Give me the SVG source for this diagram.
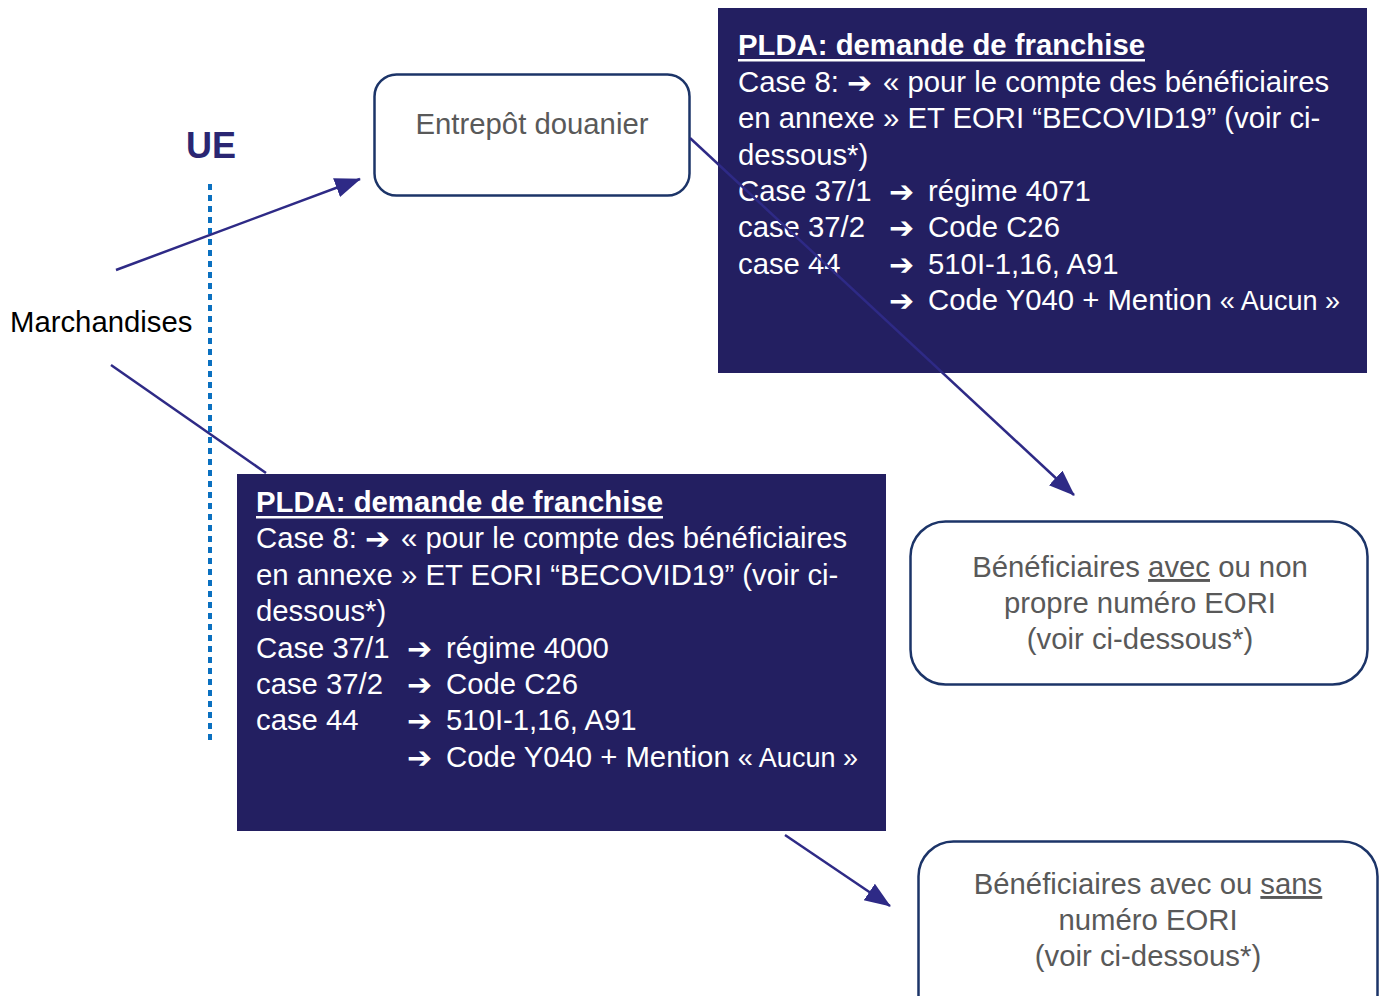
<svg xmlns="http://www.w3.org/2000/svg" width="1387" height="996" viewBox="0 0 1387 996">
<style>
.t{font-family:"Liberation Sans",Arial,sans-serif;font-size:29.3px}
.w{fill:#ffffff}
.g{fill:#595959}
.b{font-weight:bold}
.ar{font-family:"DejaVu Sans",sans-serif;font-weight:bold;font-size:30px;fill:#ffffff}
.sm{font-size:27px}
.dark{fill:#231f61;stroke:none}
.rbox{fill:#ffffff;stroke:#1c3468;stroke-width:2.5}
.conn{stroke:#2e2a86;stroke-width:2.5;fill:none}
</style>
<defs>
<marker id="ah" markerUnits="userSpaceOnUse" markerWidth="28" markerHeight="22" refX="25" refY="10" orient="auto">
<path d="M0,0 L26,10 L0,20 Z" fill="#2e2a86"/>
</marker>
</defs>
<rect width="1387" height="996" fill="#ffffff"/>

<g id="ue">
<text x="211" y="158" text-anchor="middle" style="font-family:'Liberation Sans',Arial,sans-serif;font-size:36px;font-weight:bold;fill:#2a2672">UE</text>
<line x1="210" y1="184" x2="210" y2="740" stroke="#0a70c0" stroke-width="4" stroke-dasharray="6 5"/>
</g>

<g id="marchandises">
<text class="t" x="10" y="332" fill="#000000">Marchandises</text>
</g>

<g id="entrepot">
<rect class="rbox" x="374.5" y="74.5" width="315" height="121" rx="22"/>
<text class="t g" x="532" y="134" text-anchor="middle">Entrepôt douanier</text>
</g>

<g id="plda-top">
<rect class="dark" x="718" y="8" width="649" height="365"/>
<text class="t w b" x="738" y="55">PLDA: demande de franchise</text>
<rect x="738" y="59" width="407" height="2.5" fill="#ffffff"/>
<text class="t w" x="738" y="92">Case 8:</text>
<text class="ar" x="847" y="93">➔</text>
<text class="t w" x="883" y="92">« pour le compte des bénéficiaires</text>
<text class="t w" x="738" y="128">en annexe » ET EORI “BECOVID19” (voir ci-</text>
<text class="t w" x="738" y="165">dessous*)</text>
<text class="t w" x="738" y="201">Case 37/1</text>
<text class="ar" x="889" y="202">➔</text>
<text class="t w" x="928" y="201">régime 4071</text>
<text class="t w" x="738" y="237">case 37/2</text>
<text class="ar" x="889" y="238">➔</text>
<text class="t w" x="928" y="237">Code C26</text>
<text class="t w" x="738" y="274">case 44</text>
<text class="ar" x="889" y="275">➔</text>
<text class="t w" x="928" y="274">510I-1,16, A91</text>
<text class="ar" x="889" y="311">➔</text>
<text class="t w" x="928" y="310">Code Y040 + Mention <tspan class="sm">« Aucun »</tspan></text>
</g>

<g id="plda-bottom">
<rect class="dark" x="237" y="474" width="649" height="357"/>
<text class="t w b" x="256" y="512">PLDA: demande de franchise</text>
<rect x="256" y="516" width="407" height="2.5" fill="#ffffff"/>
<text class="t w" x="256" y="548">Case 8:</text>
<text class="ar" x="365" y="549">➔</text>
<text class="t w" x="401" y="548">« pour le compte des bénéficiaires</text>
<text class="t w" x="256" y="585">en annexe » ET EORI “BECOVID19” (voir ci-</text>
<text class="t w" x="256" y="621">dessous*)</text>
<text class="t w" x="256" y="658">Case 37/1</text>
<text class="ar" x="407" y="659">➔</text>
<text class="t w" x="446" y="658">régime 4000</text>
<text class="t w" x="256" y="694">case 37/2</text>
<text class="ar" x="407" y="695">➔</text>
<text class="t w" x="446" y="694">Code C26</text>
<text class="t w" x="256" y="730">case 44</text>
<text class="ar" x="407" y="731">➔</text>
<text class="t w" x="446" y="730">510I-1,16, A91</text>
<text class="ar" x="407" y="768">➔</text>
<text class="t w" x="446" y="767">Code Y040 + Mention <tspan class="sm">« Aucun »</tspan></text>
</g>

<g id="benef-avec">
<rect class="rbox" x="910.5" y="521.5" width="457" height="163" rx="35"/>
<text class="t g" x="1140" y="577" text-anchor="middle">Bénéficiaires <tspan text-decoration="underline">avec</tspan> ou non</text>
<text class="t g" x="1140" y="613" text-anchor="middle">propre numéro EORI</text>
<text class="t g" x="1140" y="649" text-anchor="middle">(voir ci-dessous*)</text>
</g>

<g id="benef-sans">
<rect class="rbox" x="918.5" y="841.5" width="459" height="190" rx="35"/>
<text class="t g" x="1148" y="894" text-anchor="middle">Bénéficiaires avec ou <tspan text-decoration="underline">sans</tspan></text>
<text class="t g" x="1148" y="930" text-anchor="middle">numéro EORI</text>
<text class="t g" x="1148" y="966" text-anchor="middle">(voir ci-dessous*)</text>
</g>

<g id="connectors">
<line class="conn" x1="116" y1="270" x2="360" y2="179" marker-end="url(#ah)"/>
<line class="conn" x1="111" y1="365" x2="266" y2="473"/>
<line class="conn" x1="690" y1="138" x2="1074" y2="495" marker-end="url(#ah)"/>
<line class="conn" x1="785" y1="835" x2="890" y2="906" marker-end="url(#ah)"/>
</g>
</svg>
